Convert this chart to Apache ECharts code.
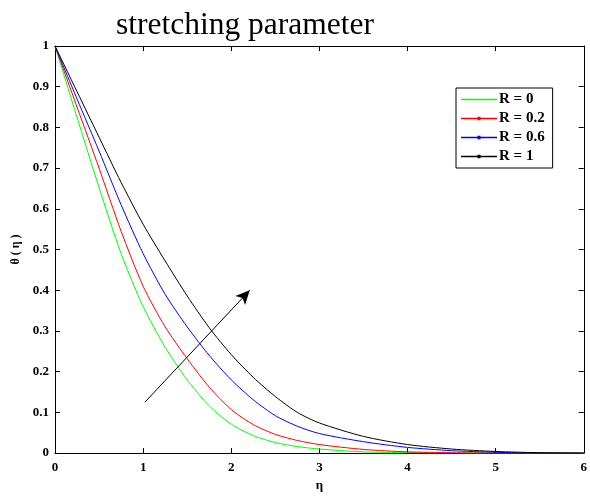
<!DOCTYPE html>
<html>
<head>
<meta charset="utf-8">
<script src="https://cdn.jsdelivr.net/npm/echarts@6/dist/echarts.min.js"></script>
<style>
  html, body { margin: 0; padding: 0; background: #fff; }
  #chart { width: 590px; height: 497px; }
</style>
</head>
<body>
<div id="chart"></div>
<script>
// eta grid and theta(eta) for each R
const eta = [0, 0.25, 0.5, 0.75, 1, 1.25, 1.5, 1.75, 2, 2.25, 2.5, 2.75, 3, 3.5, 4, 4.5, 5, 5.5, 6]
const thetaR0 = [1, 0.825, 0.652, 0.49, 0.36, 0.26, 0.18, 0.116, 0.071, 0.043, 0.026, 0.016, 0.01, 0.003, 0.001, 0, 0, 0, 0]
const thetaR02 = [1, 0.85, 0.7, 0.545, 0.41, 0.31, 0.232, 0.162, 0.107, 0.07, 0.046, 0.031, 0.021, 0.009, 0.003, 0.001, 0, 0, 0]
const thetaR06 = [1, 0.87, 0.742, 0.61, 0.49, 0.39, 0.31, 0.24, 0.18, 0.131, 0.092, 0.066, 0.048, 0.028, 0.014, 0.006, 0.002, 0, 0]
const thetaR1 = [1, 0.888, 0.776, 0.665, 0.562, 0.472, 0.386, 0.308, 0.242, 0.186, 0.139, 0.1, 0.074, 0.041, 0.021, 0.01, 0.004, 0.001, 0]
const seriesNames = ['R = 0', 'R = 0.2', 'R = 0.6', 'R = 1']
const seriesColors = ['#00ff00', '#ff0000', '#0000ff', '#000000']
const arrowFrom = [1.02, 0.125]
const arrowTo = [2.21, 0.40]

const pairs = (ys) => eta.map((x, i) => [x, ys[i]])
const allTheta = [thetaR0, thetaR02, thetaR06, thetaR1]

const serif = '"Liberation Serif", "DejaVu Serif", serif'
const lbl = { fontFamily: serif, fontWeight: 'bold', fontSize: 13, color: '#000' }

// legend icons: thin line, with a small dot for the marked series
const iconLine = 'path://M0,4.3H36V5.7H0Z'
const iconDot = 'path://M0,4.3H36V5.7H0Z M16.5,3.2H19.5V6.8H16.5Z'

let charts = echarts.init(document.getElementById('chart'))
let series = allTheta.map((ys, i) => ({
  name: seriesNames[i],
  type: 'line',
  data: pairs(ys),
  smooth: 0.25,
  symbol: 'none',
  lineStyle: { width: 1, color: seriesColors[i] },
  itemStyle: { color: seriesColors[i] },
  z: 3
}))
series[3].markLine = {
  silent: true,
  symbol: ['none', 'arrow'],
  symbolSize: [10, 14],
  label: { show: false },
  lineStyle: { color: '#000', width: 1, type: 'solid' },
  data: [[{ coord: arrowFrom }, { coord: arrowTo }]]
}

let axisBase = {
  axisLine: { show: true, onZero: false, lineStyle: { color: '#000', width: 1 } },
  axisTick: { show: true, inside: true, length: 5, lineStyle: { color: '#000' } },
  splitLine: { show: false }
}

let options = {
  animation: false,
  backgroundColor: '#fff',
  title: {
    text: 'stretching parameter',
    left: 111,
    top: 5,
    textStyle: { fontFamily: serif, fontWeight: 'normal', fontSize: 31.5, color: '#000' }
  },
  legend: {
    data: seriesNames.map((n, i) => ({ name: n, icon: i === 0 ? iconLine : iconDot })),
    orient: 'vertical',
    left: 456,
    top: 88,
    padding: [4, 8, 4, 5],
    itemWidth: 36,
    itemHeight: 10,
    itemGap: 4,
    borderColor: '#000',
    borderWidth: 1,
    backgroundColor: '#fff',
    textStyle: { fontFamily: serif, fontWeight: 'bold', fontSize: 15, color: '#000', padding: [0, 0, 0, -3] }
  },
  grid: { left: 55, right: 5, top: 46, bottom: 35 },
  xAxis: [
    Object.assign({}, axisBase, {
      type: 'value', min: 0, max: 6, interval: 1, position: 'bottom',
      axisLabel: Object.assign({ margin: 8 }, lbl),
      name: 'η', nameLocation: 'middle', nameGap: 25,
      nameTextStyle: { fontFamily: serif, fontWeight: 'bold', fontSize: 13, color: '#000' }
    }),
    Object.assign({}, axisBase, {
      type: 'value', min: 0, max: 6, interval: 1, position: 'top',
      axisLabel: { show: false }
    })
  ],
  yAxis: [
    Object.assign({}, axisBase, {
      type: 'value', min: 0, max: 1, interval: 0.1, position: 'left',
      axisLabel: Object.assign({ margin: 6 }, lbl),
      name: 'θ ( η )', nameLocation: 'middle', nameGap: 27, nameRotate: 90,
      nameTextStyle: { fontFamily: serif, fontWeight: 'bold', fontSize: 12, color: '#000' }
    }),
    Object.assign({}, axisBase, {
      type: 'value', min: 0, max: 1, interval: 0.1, position: 'right',
      axisLabel: { show: false }
    })
  ],
  series: series
}
charts.setOption(options)
</script>
</body>
</html>
